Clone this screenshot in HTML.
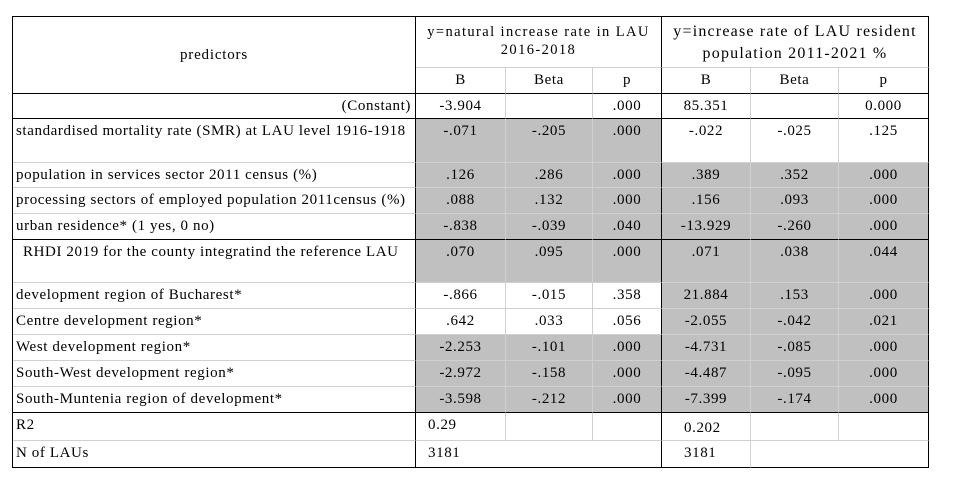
<!DOCTYPE html>
<html><head><meta charset="utf-8"><style>
body{margin:0;background:#fff;width:954px;height:483px;overflow:hidden;position:relative;font-family:"Liberation Serif",serif;color:#000}
table{position:absolute;left:12px;top:16px;border-collapse:separate;border-spacing:0;table-layout:fixed;font-size:15px;letter-spacing:0.6px;border-top:1px solid #000;border-left:1px solid #000}
td{border-right:1px solid #d0d0d0;border-bottom:1px solid #d0d0d0;padding:0;vertical-align:top;text-align:center;line-height:24px;white-space:nowrap;overflow:hidden}
td.l{text-align:left;padding-left:3px}
td.r{text-align:right;padding-right:4px}
.g{background:#c0c0c0}
.bb td, td.bb{border-bottom:1px solid #000}
td.br{border-right:1px solid #000}
</style></head><body>
<table>
<colgroup><col style="width:403px"><col style="width:90px"><col style="width:87px"><col style="width:69px"><col style="width:89px"><col style="width:88px"><col style="width:90px"></colgroup>
<tr style="height:51px"><td rowspan="2" class="br bb" style="vertical-align:middle;letter-spacing:0.8px">predictors</td>
<td colspan="3" class="br" style="line-height:18px;padding-top:6px;font-size:14.5px;letter-spacing:1.4px">y=natural increase rate in LAU<br>2016-2018</td>
<td colspan="3" class="br" style="line-height:22px;padding-top:4px;font-size:16px;letter-spacing:1.2px">y=increase rate of LAU resident<br>population 2011-2021 %</td></tr>
<tr class="bb" style="height:26px"><td>B</td><td>Beta</td><td class="br">p</td><td>B</td><td>Beta</td><td class="br">p</td></tr>
<tr class="bb" style="height:24px"><td class="r br">(Constant)</td><td>-3.904</td><td></td><td class="br">.000</td><td>85.351</td><td></td><td class="br">0.000</td></tr>
<tr style="height:44px"><td class="l br">standardised mortality rate (SMR) at LAU level 1916-1918</td><td class="g">-.071</td><td class="g">-.205</td><td class="g br">.000</td><td>-.022</td><td>-.025</td><td class="br">.125</td></tr>
<tr style="height:25px"><td class="l br">population in services sector 2011 census (%)</td><td class="g">.126</td><td class="g">.286</td><td class="g br">.000</td><td class="g">.389</td><td class="g">.352</td><td class="g br">.000</td></tr>
<tr style="height:26px"><td class="l br">processing sectors of employed population 2011census (%)</td><td class="g">.088</td><td class="g">.132</td><td class="g br">.000</td><td class="g">.156</td><td class="g">.093</td><td class="g br">.000</td></tr>
<tr class="bb" style="height:26px"><td class="l br">urban residence* (1 yes, 0 no)</td><td class="g">-.838</td><td class="g">-.039</td><td class="g br">.040</td><td class="g">-13.929</td><td class="g">-.260</td><td class="g br">.000</td></tr>
<tr style="height:43px"><td class="l br" style="padding-left:10px">RHDI 2019 for the county integratind the reference LAU</td><td class="g">.070</td><td class="g">.095</td><td class="g br">.000</td><td class="g">.071</td><td class="g">.038</td><td class="g br">.044</td></tr>
<tr style="height:26px"><td class="l br">development region of Bucharest*</td><td>-.866</td><td>-.015</td><td class="br">.358</td><td class="g">21.884</td><td class="g">.153</td><td class="g br">.000</td></tr>
<tr style="height:26px"><td class="l br">Centre development region*</td><td>.642</td><td>.033</td><td class="br">.056</td><td class="g">-2.055</td><td class="g">-.042</td><td class="g br">.021</td></tr>
<tr style="height:26px"><td class="l br">West development region*</td><td class="g">-2.253</td><td class="g">-.101</td><td class="g br">.000</td><td class="g">-4.731</td><td class="g">-.085</td><td class="g br">.000</td></tr>
<tr style="height:26px"><td class="l br">South-West development region*</td><td class="g">-2.972</td><td class="g">-.158</td><td class="g br">.000</td><td class="g">-4.487</td><td class="g">-.095</td><td class="g br">.000</td></tr>
<tr class="bb" style="height:26px"><td class="l br">South-Muntenia region of development*</td><td class="g">-3.598</td><td class="g">-.212</td><td class="g br">.000</td><td class="g">-7.399</td><td class="g">-.174</td><td class="g br">.000</td></tr>
<tr style="height:27px"><td class="l br">R2</td><td style="text-align:left;padding-left:12px">0.29</td><td></td><td class="br"></td><td style="text-align:left;padding-left:22px;padding-top:3px">0.202</td><td></td><td class="br"></td></tr>
<tr class="bb" style="height:27px"><td class="l br">N of LAUs</td><td style="text-align:left;padding-left:12px;border-right:none">3181</td><td style="border-right:none"></td><td class="br"></td><td style="text-align:left;padding-left:22px">3181</td><td style="border-right:none"></td><td class="br"></td></tr>
</table>
</body></html>
